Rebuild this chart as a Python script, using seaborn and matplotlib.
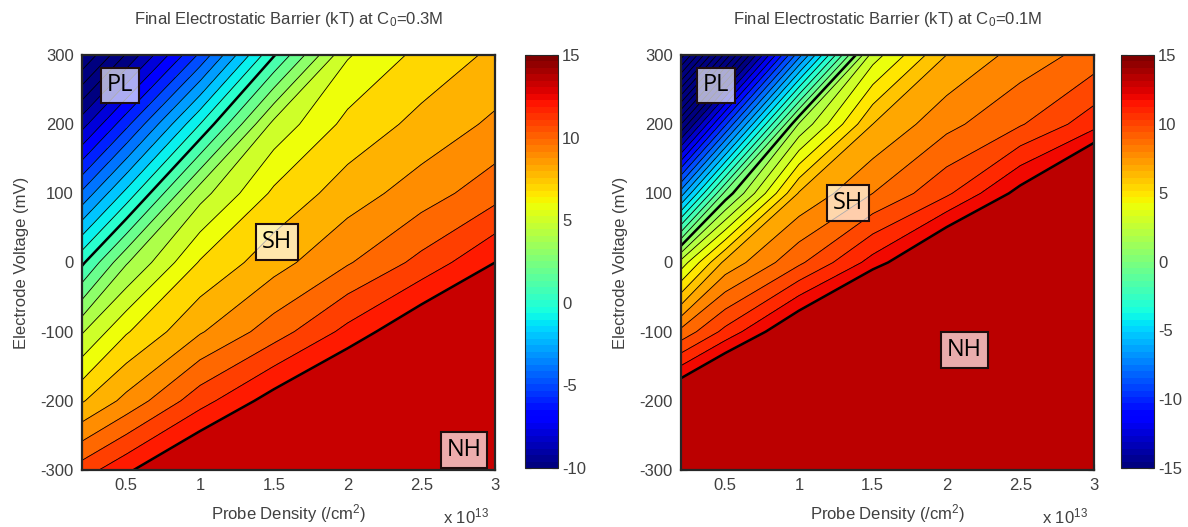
import numpy as np
import matplotlib
matplotlib.use('Agg')
import matplotlib.pyplot as plt
import seaborn as sns
from matplotlib.colors import Normalize
from matplotlib.cm import ScalarMappable

# grid the barrier was sampled on
density = [0.2, 0.5, 1.0, 1.5, 2.0, 2.5, 3.0]      # probe density (x 1e13 /cm^2)
voltage = [-300, -200, -100, 0, 100, 200, 300]     # electrode voltage (mV)

# final electrostatic barrier (kT); rows = voltage, cols = density
barrier_03M = [
    [10.5, 11.8, 13.8, 15.3, 17.1, 18.8, 20.1],
    [6.9, 8.3, 10.6, 12.5, 14.2, 16.0, 17.4],
    [3.9, 5.9, 7.9, 9.5, 11.3, 13.1, 14.7],
    [-0.2, 2.9, 6.1, 7.6, 8.9, 10.3, 12.0],
    [-4.8, -1.7, 3.6, 6.2, 7.5, 8.5, 9.6],
    [-9.4, -6.3, -1.0, 4.3, 6.3, 7.3, 8.2],
    [-14.0, -10.9, -5.8, -0.1, 4.9, 6.3, 7.2],
]
barrier_01M = [
    [19.4, 21.4, 24.8, 28.1, 32.0, 36.0, 43.5],
    [13.8, 15.8, 19.0, 23.0, 26.0, 30.0, 36.8],
    [8.3, 10.3, 13.4, 17.4, 20.4, 24.5, 30.0],
    [2.4, 6.3, 8.8, 11.4, 14.3, 18.5, 23.5],
    [-7.5, -0.7, 6.1, 8.0, 9.8, 12.4, 15.8],
    [-17.0, -10.2, 1.1, 6.0, 7.7, 8.9, 10.6],
    [-26.5, -19.7, -8.4, 2.5, 6.0, 7.4, 8.4],
]

panels = [
    ('0.3M', barrier_03M, (-10, 15), [('PL', 0.46, 256), ('SH', 1.52, 30), ('NH', 2.79, -271)]),
    ('0.1M', barrier_01M, (-15, 15), [('PL', 0.44, 256), ('SH', 1.33, 86), ('NH', 2.12, -126)]),
]

sns.set_style('ticks')
plt.rcParams['font.family'] = ['Liberation Sans', 'DejaVu Sans']
plt.rcParams['mathtext.fontset'] = 'custom'
plt.rcParams['mathtext.rm'] = 'Liberation Sans'
plt.rcParams['mathtext.it'] = 'Liberation Sans:italic'
plt.rcParams['axes.unicode_minus'] = False
plt.rcParams['contour.negative_linestyle'] = 'solid'

W, H = 1188, 527
fig = plt.figure(figsize=(W / 100, H / 100), dpi=100)
txt = '0.25'

jet = plt.get_cmap('jet')
jet64 = plt.get_cmap('jet', 64)
X, Y = np.meshgrid(density, voltage)
nh_level = 12   # barrier at the SH / NH border

for i, (conc, data, (vmin, vmax), labels) in enumerate(panels):
    x0 = [82, 681][i]
    ax = fig.add_axes([x0 / W, (H - 470) / H, 413 / W, 415 / H])
    Z = np.array(data)
    levels = list(range(-30, nh_level + 1)) + [100]
    norm = Normalize(vmin, vmax)
    # each band takes the colour of its upper level; NH gets one flat shade
    colors = [jet(norm(lv + 1)) for lv in levels[:-2]] + [jet(norm(13.4))]
    ax.contourf(X, Y, Z, levels=levels, colors=colors)
    ax.contour(X, Y, Z, levels=levels[:-1], colors='black', linewidths=0.6)
    ax.contour(X, Y, Z, levels=[0, nh_level], colors='black', linewidths=1.8)

    ax.set_xlim(0.2, 3)
    ax.set_ylim(-300, 300)
    ax.set_xticks([0.5, 1, 1.5, 2, 2.5, 3])
    ax.set_xticklabels(['0.5', '1', '1.5', '2', '2.5', '3'])
    ax.set_yticks(range(-300, 301, 100))
    ax.tick_params(direction='in', top=True, right=True, length=4, width=0.8,
                   labelsize=12, labelcolor=txt, pad=6)
    for s in ax.spines.values():
        s.set_linewidth(1.6)
    ax.set_title('Final Electrostatic Barrier (kT) at C$_0$=' + conc,
                 fontsize=12, color=txt, pad=22)
    ax.set_xlabel('Probe Density (/cm$^2$)', fontsize=12, color=txt, labelpad=6)
    ax.set_ylabel('Electrode Voltage (mV)', fontsize=12, color=txt, labelpad=8)
    ax.text(0.985, -0.088, r'x 10$^{13}$', transform=ax.transAxes, ha='right',
            va='top', fontsize=12, color=txt)

    for name, lx, ly in labels:
        ax.text(lx, ly, name, ha='center', va='center', fontsize=17,
                family='Open Sans', color='black',
                bbox=dict(boxstyle='square,pad=0.25', facecolor=(1, 1, 1, 0.68),
                          edgecolor=(0.12, 0.05, 0.05), linewidth=1.5))

    cx = [525, 1121][i]
    cax = fig.add_axes([cx / W, (H - 468) / H, 33 / W, 413 / H])
    cb = fig.colorbar(ScalarMappable(norm=norm, cmap=jet64), cax=cax)
    cb.set_ticks(range(vmin, vmax + 1, 5))
    cb.outline.set_linewidth(0.8)
    cax.tick_params(direction='in', left=True, right=True, length=4, width=0.8,
                    labelsize=12, labelcolor=txt, pad=3)

fig.savefig('out.png', dpi=100)
